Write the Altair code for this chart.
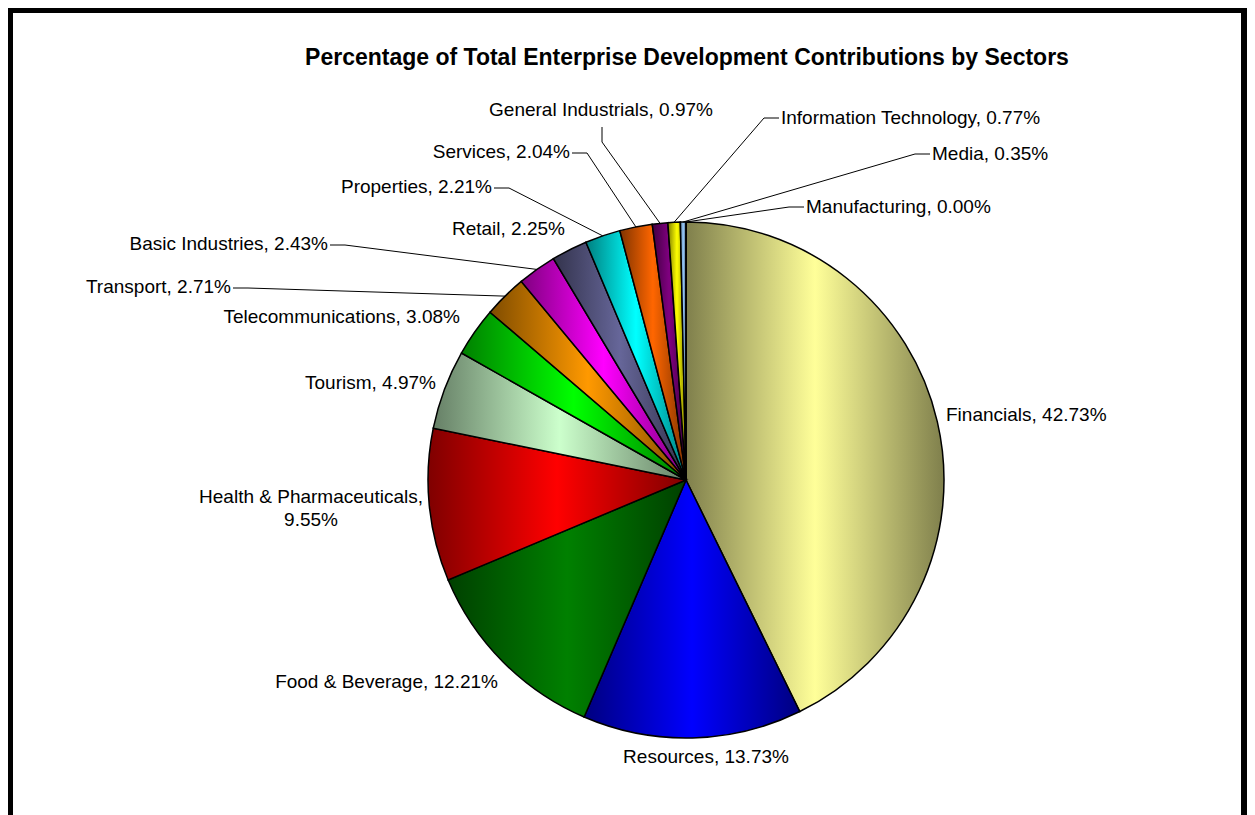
import math
import altair as alt
import pandas as pd

# ---------------- data ----------------
sectors = ["Financials", "Resources", "Food & Beverage", "Health & Pharmaceuticals",
           "Tourism", "Telecommunications", "Transport", "Basic Industries", "Retail",
           "Properties", "Services", "General Industrials", "Information Technology",
           "Media", "Manufacturing"]
values = [42.73, 13.73, 12.21, 9.55, 4.97, 3.08, 2.71, 2.43, 2.25,
          2.21, 2.04, 0.97, 0.77, 0.35, 0.00]

title_text = "Percentage of Total Enterprise Development Contributions by Sectors"

# ---------------- styles ----------------
bright = ["#FFFF99", "#0000FF", "#008000", "#FF0000", "#CCFFCC", "#00FF00", "#FF9900",
          "#FF00FF", "#666699", "#00FFFF", "#FF6600", "#800080", "#FFFF00", "#99CCFF",
          "#FFFFFF"]


def darken(hexcol, f=0.5):
    r, g, b = (int(hexcol[i:i + 2], 16) for i in (1, 3, 5))
    return "#%02X%02X%02X" % (int(r * f), int(g * f), int(b * f))


# ---------------- layout (view pixels = page pixels - 8) ----------------
OFF = 8
W, H = 1239, 820
CX, CY, R = 686 - OFF, 480 - OFF, 258
FS = 19

# label anchor (page px), text alignment, leader style
label_layout = [
    (946, 415, "left", ""),
    (706, 757, "center", ""),
    (498, 682, "right", ""),
    (311, 497, "center", ""),
    (436, 383, "right", ""),
    (460, 317, "right", ""),
    (231, 287, "right", "h"),
    (328, 244, "right", "h"),
    (565, 229, "right", ""),
    (492, 187, "right", "h"),
    (570, 152, "right", "h"),
    (601, 110, "center", "v"),
    (781, 118, "left", "h"),
    (932, 154, "left", "h"),
    (806, 207, "left", "h"),
]

rows = []
for i, (s, v) in enumerate(zip(sectors, values)):
    lx, ly, al, ld = label_layout[i]
    lx, ly = lx - OFF, ly - OFF
    lab = f"{s}, {v:.2f}%"
    if s == "Health & Pharmaceuticals":
        lab = f"{s},\n{v:.2f}%"
    if ld == "h" and al == "right":
        ax, ay, bx, by = lx + 2, ly + 1, lx + 17, ly + 1
    elif ld == "h":
        ax, ay, bx, by = lx - 2, ly, lx - 17, ly
    elif ld == "v":
        ax, ay, bx, by = lx + 1, ly + 17, lx + 1, ly + 32
    else:
        ax = ay = bx = by = 0
    rows.append(dict(sector=s, value=v, order=i, label=lab, lx=lx, ly=ly, align=al,
                     leader=ld, ax=ax, ay=ay, bx=bx, by=by))
df = pd.DataFrame(rows)

base = alt.Chart(df).transform_window(
    cum="sum(value)", sort=[alt.SortField("order")], frame=[None, 0]
).transform_calculate(
    start="datum.cum - datum.value",
    mid="datum.cum - datum.value / 2",
    px=f"{CX} + {R} * sin(2 * PI * datum.mid / 100)",
    py=f"{CY} - {R} * cos(2 * PI * datum.mid / 100)",
)

theta_scale = alt.Scale(domain=[0, 100], range=[0, 2 * math.pi])

layers = []
for i, s in enumerate(sectors):
    grad = alt.LinearGradient(
        gradient="linear", x1=0, x2=1, y1=0, y2=0,
        stops=[alt.GradientStop(color=darken(bright[i]), offset=0),
               alt.GradientStop(color=bright[i], offset=0.5),
               alt.GradientStop(color=darken(bright[i]), offset=1)])
    layers.append(
        base.transform_filter(alt.datum.sector == s)
        .mark_arc(fill=grad, stroke="black", strokeWidth=1.5, outerRadius=R)
        .encode(theta=alt.Theta("start:Q", scale=theta_scale),
                theta2="cum:Q",
                x=alt.value(CX), y=alt.value(CY))
    )

lead = base.transform_filter(alt.datum.leader != "")
seg1 = lead.mark_rule(color="black", strokeWidth=1).encode(
    x=alt.X("ax:Q", scale=None, axis=None), y=alt.Y("ay:Q", scale=None, axis=None),
    x2="bx:Q", y2="by:Q")
seg2 = lead.mark_rule(color="black", strokeWidth=1).encode(
    x=alt.X("bx:Q", scale=None, axis=None), y=alt.Y("by:Q", scale=None, axis=None),
    x2="px:Q", y2="py:Q")
layers += [seg1, seg2]

for al in ["left", "center", "right"]:
    layers.append(
        base.transform_filter(alt.datum.align == al)
        .mark_text(align=al, baseline="middle", font="Liberation Sans", fontSize=FS,
                   color="black", lineBreak="\n", lineHeight=23)
        .encode(x=alt.X("lx:Q", scale=None, axis=None),
                y=alt.Y("ly:Q", scale=None, axis=None),
                text="label:N")
    )

tdf = pd.DataFrame({"t": [title_text]})
title = alt.Chart(tdf).mark_text(
    font="Liberation Sans", fontSize=23, fontWeight="bold", align="center",
    baseline="middle", color="black"
).encode(x=alt.value(687 - OFF), y=alt.value(58 - OFF), text="t:N")

frame = alt.Chart(tdf).mark_rect(fillOpacity=0, stroke="black", strokeWidth=6).encode(
    x=alt.value(10 - OFF), x2=alt.value(W - 3), y=alt.value(10 - OFF),
    y2=alt.value(1200))

chart = alt.layer(*layers, title, frame).properties(
    width=W, height=H, autosize=alt.AutoSizeParams(type="none"), padding=0,
    background="white"
).configure_view(strokeWidth=0)

chart.save("out.html", embed_options={"renderer": "svg", "actions": False})
